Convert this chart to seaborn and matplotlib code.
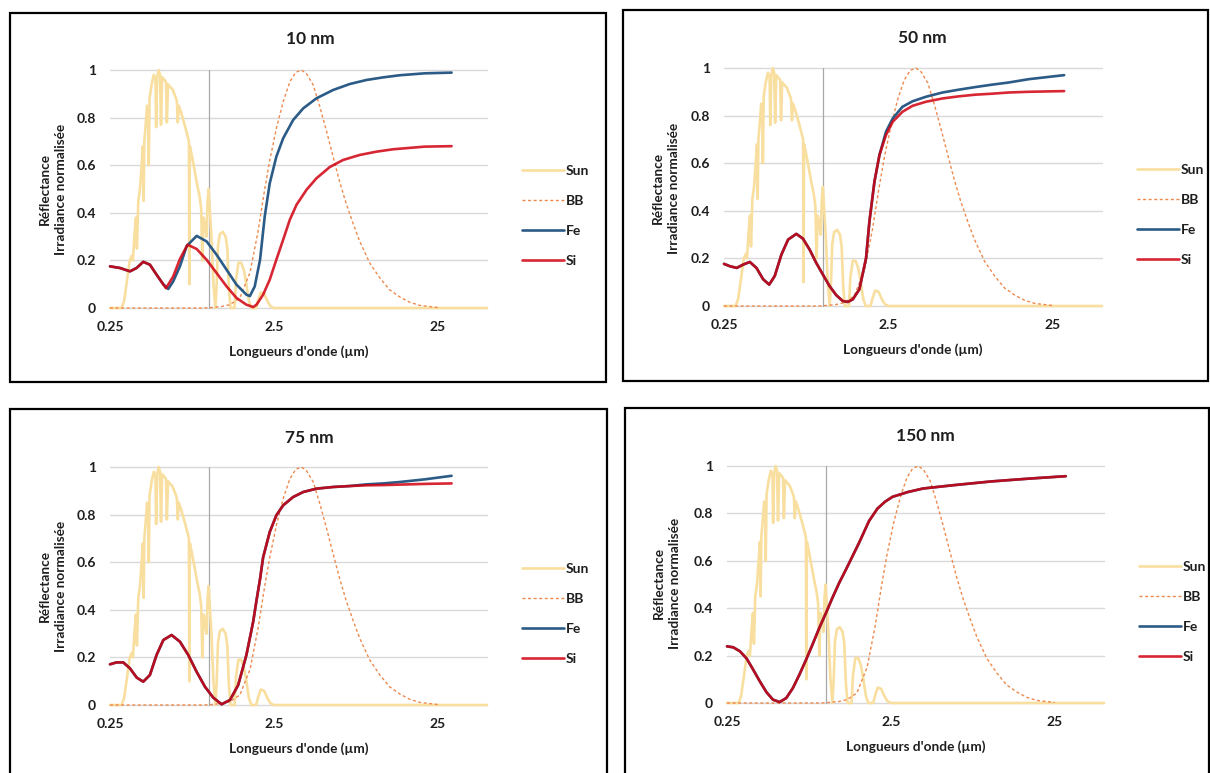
import matplotlib
matplotlib.use("Agg")
import seaborn as sns
import matplotlib.pyplot as plt
from matplotlib.patches import Rectangle
from matplotlib.ticker import NullLocator

# ---- data (wavelength in µm, normalised values) ----
sun_wl = [0.25, 0.294, 0.305, 0.318, 0.330, 0.340, 0.345, 0.352, 0.360, 0.365,
          0.372, 0.381, 0.390, 0.397, 0.401, 0.405, 0.414, 0.421, 0.428, 0.431,
          0.436, 0.449, 0.463, 0.474, 0.478, 0.485, 0.495, 0.505, 0.512, 0.520,
          0.535, 0.549, 0.556, 0.565, 0.58, 0.60, 0.625, 0.64, 0.648, 0.658,
          0.68, 0.70, 0.72, 0.745, 0.758, 0.762, 0.768, 0.79, 0.82, 0.85,
          0.88, 0.90, 0.915, 0.93, 0.95, 0.97, 0.985, 1.0, 1.015, 1.04,
          1.07, 1.1, 1.12, 1.14, 1.17, 1.22, 1.27, 1.30, 1.33, 1.36,
          1.44, 1.47, 1.52, 1.58, 1.64, 1.70, 1.76, 1.82, 1.95, 2.0,
          2.08, 2.18, 2.28, 2.38, 2.5, 50]
sun = [0, 0, 0.03, 0.12, 0.2, 0.22, 0.2, 0.3, 0.38, 0.25,
       0.45, 0.5, 0.6, 0.68, 0.45, 0.7, 0.78, 0.85, 0.83, 0.6,
       0.88, 0.94, 0.98, 0.96, 0.76, 0.97, 1.0, 0.98, 0.77, 0.97,
       0.96, 0.95, 0.78, 0.94, 0.93, 0.92, 0.89, 0.87, 0.78, 0.85,
       0.82, 0.79, 0.76, 0.72, 0.70, 0.1, 0.68, 0.64, 0.58, 0.52,
       0.47, 0.42, 0.2, 0.38, 0.35, 0.3, 0.45, 0.5, 0.42, 0.3,
       0.1, 0.0, 0.1, 0.26, 0.31, 0.32, 0.3, 0.25, 0.08, 0.0,
       0.0, 0.12, 0.19, 0.19, 0.16, 0.1, 0.03, 0.0, 0.0, 0.03,
       0.065, 0.06, 0.03, 0.008, 0.0, 0.0]

bb_wl = [0.25, 0.9, 1.0, 1.2, 1.35, 1.55, 1.79, 2.0, 2.2, 2.36,
         2.6, 2.86, 3.13, 3.4, 3.68, 3.95, 4.35, 4.77, 5.25, 5.75,
         6.31, 6.9, 7.6, 8.36, 9.62, 11.1, 12.7, 14.7, 16.9, 19.4, 25.0]
bb = [0, 0, 0.001, 0.006, 0.014, 0.042, 0.15, 0.32, 0.5, 0.62,
      0.76, 0.87, 0.95, 0.99, 1.0, 0.985, 0.937, 0.846, 0.741, 0.636,
      0.53, 0.44, 0.357, 0.28, 0.189, 0.126, 0.077, 0.046, 0.024, 0.011, 0.002]

# 10 nm
fe10_wl = [0.25, 0.288, 0.331, 0.363, 0.399, 0.438, 0.481, 0.528, 0.567, 0.608,
           0.668, 0.734, 0.845, 0.971, 1.118, 1.286, 1.48, 1.70, 1.785, 1.91,
           2.06, 2.20, 2.36, 2.59, 2.85, 3.28, 3.78, 4.55, 5.75, 7.26,
           9.18, 11.6, 14.7, 20.8, 30.4]
fe10 = [0.175, 0.168, 0.154, 0.168, 0.194, 0.182, 0.14, 0.10, 0.08, 0.112,
        0.175, 0.26, 0.303, 0.28, 0.224, 0.161, 0.098, 0.056, 0.05, 0.09,
        0.203, 0.385, 0.524, 0.636, 0.713, 0.79, 0.839, 0.881, 0.916, 0.941,
        0.958, 0.969, 0.978, 0.986, 0.989]
si10_wl = [0.25, 0.288, 0.331, 0.363, 0.399, 0.438, 0.481, 0.549, 0.608, 0.668,
           0.744, 0.845, 0.971, 1.118, 1.286, 1.48, 1.70, 1.87, 1.96, 2.15,
           2.36, 2.59, 2.85, 3.13, 3.44, 3.96, 4.55, 5.48, 6.62, 8.36,
           10.6, 13.4, 20.8, 30.4]
si10 = [0.175, 0.168, 0.154, 0.168, 0.194, 0.182, 0.14, 0.083, 0.133, 0.206,
        0.266, 0.248, 0.203, 0.147, 0.091, 0.042, 0.014, 0.004, 0.014, 0.056,
        0.119, 0.203, 0.287, 0.371, 0.434, 0.497, 0.545, 0.592, 0.622, 0.643,
        0.657, 0.667, 0.678, 0.68]

# 50 nm
p50_wl = [0.25, 0.272, 0.299, 0.327, 0.359, 0.394, 0.433, 0.471, 0.509, 0.559,
          0.614, 0.689, 0.756, 0.830, 0.911, 1.0, 1.097, 1.204, 1.32, 1.418,
          1.52, 1.667, 1.83, 1.92, 2.06, 2.21, 2.42, 2.66, 3.05, 3.51,
          4.23, 5.34, 6.73, 8.5, 10.7, 13.5, 17.9, 29.4]
fe50 = [0.177, 0.167, 0.16, 0.174, 0.185, 0.16, 0.112, 0.09, 0.126, 0.216,
        0.279, 0.303, 0.283, 0.237, 0.181, 0.132, 0.084, 0.046, 0.021, 0.017,
        0.028, 0.07, 0.2, 0.356, 0.523, 0.635, 0.732, 0.788, 0.837, 0.86,
        0.879, 0.897, 0.909, 0.92, 0.93, 0.939, 0.953, 0.97]
si50 = [0.177, 0.167, 0.16, 0.174, 0.185, 0.16, 0.112, 0.09, 0.126, 0.216,
        0.279, 0.303, 0.283, 0.237, 0.181, 0.132, 0.084, 0.046, 0.021, 0.017,
        0.028, 0.07, 0.2, 0.356, 0.523, 0.635, 0.718, 0.774, 0.816, 0.841,
        0.858, 0.872, 0.881, 0.888, 0.892, 0.897, 0.9, 0.903]

# 75 nm
p75_wl = [0.25, 0.274, 0.301, 0.331, 0.364, 0.399, 0.438, 0.481, 0.529, 0.594,
          0.668, 0.751, 0.844, 0.949, 1.067, 1.199, 1.35, 1.515, 1.70, 1.87,
          1.96, 2.06, 2.15, 2.36, 2.59, 2.85, 3.28, 3.78, 4.55, 5.75,
          7.26, 9.18, 11.6, 14.7, 20.8, 30.4]
fe75 = [0.171, 0.179, 0.179, 0.154, 0.115, 0.098, 0.126, 0.21, 0.273, 0.294,
        0.266, 0.21, 0.14, 0.077, 0.031, 0.003, 0.021, 0.084, 0.21, 0.35,
        0.44, 0.53, 0.62, 0.727, 0.797, 0.839, 0.874, 0.895, 0.909, 0.916,
        0.92, 0.927, 0.931, 0.937, 0.948, 0.963]
si75 = [0.171, 0.179, 0.179, 0.154, 0.115, 0.098, 0.126, 0.21, 0.273, 0.294,
        0.266, 0.21, 0.14, 0.077, 0.031, 0.003, 0.021, 0.084, 0.21, 0.35,
        0.44, 0.53, 0.62, 0.727, 0.797, 0.839, 0.874, 0.895, 0.909, 0.916,
        0.92, 0.923, 0.924, 0.926, 0.929, 0.931]

# 150 nm (Fe and Si coincide)
p150_wl = [0.25, 0.273, 0.30, 0.33, 0.361, 0.396, 0.435, 0.477, 0.524, 0.575,
           0.631, 0.692, 0.76, 0.834, 0.915, 1.005, 1.10, 1.21, 1.33, 1.46,
           1.60, 1.84, 2.07, 2.30, 2.56, 3.17, 3.93, 6.02, 10.3, 17.6, 29.2]
fe150 = [0.239, 0.235, 0.218, 0.187, 0.141, 0.092, 0.046, 0.014, 0.004, 0.021,
         0.063, 0.12, 0.183, 0.249, 0.317, 0.38, 0.444, 0.507, 0.563, 0.62,
         0.676, 0.768, 0.82, 0.849, 0.87, 0.89, 0.905, 0.919, 0.935, 0.947, 0.957]
si150 = list(fe150)

x_ticks = [0.25, 2.5, 25]
x_labels = ["0.25", "2.5", "25"]
y_ticks = [0, 0.2, 0.4, 0.6, 0.8, 1]
y_labels = ["0", "0.2", "0.4", "0.6", "0.8", "1"]

# ---- style ----
sns.set_theme(style="white")
plt.rcParams["font.family"] = ["Lato", "DejaVu Sans"]
TXT = "#1E1E1E"
W, H = 1210, 773

fig = plt.figure(figsize=(12.1, 7.73), dpi=100)


def px_axes(l, t, r, b):
    return fig.add_axes([l / W, 1 - b / H, (r - l) / W, (b - t) / H])


def panel(title, fe_wl, fe, si_wl, si, box, frame, title_xy, ylab_xy, leg_y):
    l, t, r, b = box
    ax = px_axes(l, t, r, b)

    for y in y_ticks:
        ax.axhline(y, color="#D9D9D9", lw=1.0, zorder=0, clip_on=False)
    # Excel log axis: vertical axis crosses at 1
    ax.axvline(1, color="#A8A8A8", lw=0.9, zorder=0.5)

    sns.lineplot(x=sun_wl, y=sun, ax=ax, color="#F8DF9F", lw=1.9,
                 estimator=None, sort=False, label="Sun")
    sns.lineplot(x=bb_wl, y=bb, ax=ax, color="#EE8A4E", lw=1.0,
                 estimator=None, sort=False, label="BB")
    ax.lines[-1].set_dashes([2.2, 1.8])
    sns.lineplot(x=fe_wl, y=fe, ax=ax, color="#2B5B86", lw=1.9,
                 estimator=None, sort=False, label="Fe")
    sns.lineplot(x=si_wl, y=si, ax=ax, color="#D00010", lw=1.9, alpha=0.85,
                 estimator=None, sort=False, label="Si")
    for ln in ax.lines:
        ln.set_clip_on(False)

    ax.set_xscale("log")
    ax.set_xlim(0.25, 50)
    ax.set_ylim(0, 1)
    ax.xaxis.set_minor_locator(NullLocator())
    ax.set_xticks(x_ticks)
    ax.set_xticklabels(x_labels)
    ax.set_yticks(y_ticks)
    ax.set_yticklabels(y_labels)
    ax.tick_params(axis="x", length=0, pad=9.5, labelsize=10, labelcolor=TXT)
    ax.tick_params(axis="y", length=0, pad=10, labelsize=10, labelcolor=TXT)
    for lab in ax.get_xticklabels() + ax.get_yticklabels():
        lab.set_fontweight("bold")
    ax.set(xlabel="", ylabel="")
    sns.despine(ax=ax, left=True, bottom=True)

    leg = ax.legend(loc="center left",
                    bbox_to_anchor=(1.093, (b - leg_y) / (b - t)),
                    frameon=False, borderpad=0, borderaxespad=0,
                    handlelength=3.0, handletextpad=0.12, labelspacing=1.3,
                    prop={"weight": "bold", "size": 10})
    for txt in leg.get_texts():
        txt.set_color(TXT)

    fig.text(title_xy[0] / W, 1 - title_xy[1] / H, title, ha="center",
             va="center", fontsize=12.5, fontweight="bold", color=TXT)
    fig.text((l + r) / 2 / W, 1 - (b + 44) / H, "Longueurs d'onde (µm)",
             ha="center", va="center", fontsize=9.8, fontweight="bold",
             color=TXT)
    fig.text(ylab_xy[0] / W, 1 - ylab_xy[1] / H,
             "Réflectance\nIrradiance normalisée", rotation=90, ha="center",
             va="center", multialignment="center", linespacing=1.4,
             fontsize=9.8, fontweight="bold", color=TXT)

    x0, y0, x1, y1 = frame
    fig.add_artist(Rectangle((x0 / W, 1 - y1 / H), (x1 - x0) / W,
                             (y1 - y0) / H, transform=fig.transFigure,
                             fill=False, ec="black", lw=1.6))
    return ax


panel("10 nm", fe10_wl, fe10, si10_wl, si10,
      (110, 70, 487, 308), (10, 13, 606, 382), (310, 39), (53, 189), 216)
panel("50 nm", p50_wl, fe50, p50_wl, si50,
      (724, 68, 1102, 306), (623, 10, 1208, 381), (922, 38), (666, 188), 215)
panel("75 nm", p75_wl, fe75, p75_wl, si75,
      (110, 467, 487, 705), (10, 409, 607, 790), (309, 438), (53, 586), 614)
panel("150 nm", p150_wl, fe150, p150_wl, si150,
      (727, 466, 1104, 703), (625, 408, 1209, 790), (925, 436), (667, 583), 612)

fig.savefig("out.png", dpi=100)
